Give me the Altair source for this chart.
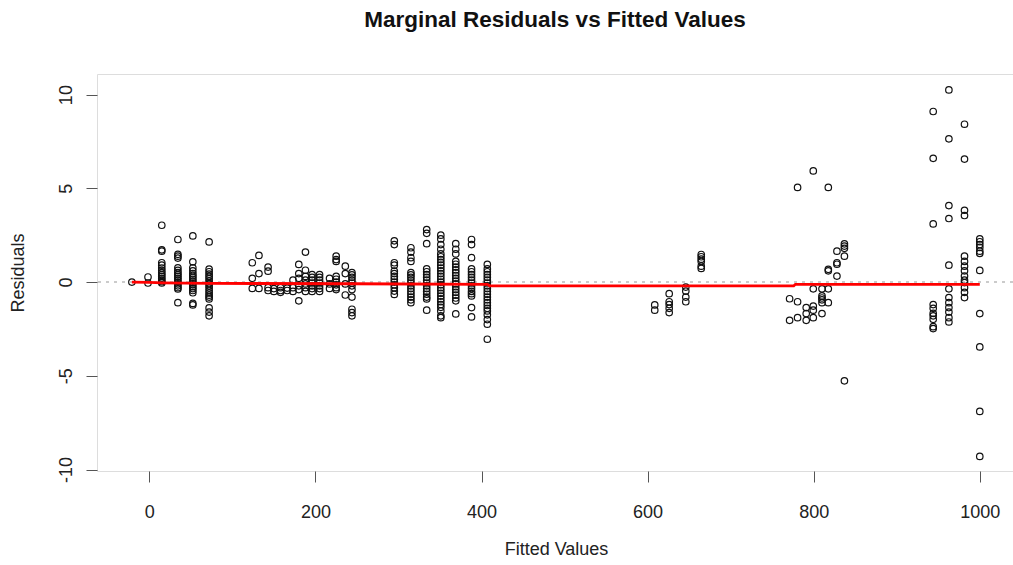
import altair as alt
import pandas as pd

# Fitted-value positions of the point columns (x) and the residuals seen at each
fitted = [-21, -1.6, 15, 34.4, 52.4, 72,
          124, 132, 143, 150, 158, 166, 173, 180, 188, 196, 205, 217, 225, 236, 244,
          295, 315, 334, 351, 369, 388, 407,
          608.6, 626, 646, 664.6,
          771, 780.6, 791, 799.5, 810, 817.6, 828, 837,
          943.9, 962.8, 981.6, 1000]

residuals = [
    [0.0],
    [0.27, -0.05],
    [3.03, 1.72, 1.65, 1.03, 0.9, 0.75, 0.62, 0.5, 0.4, 0.3, 0.2, 0.1, 0.02, -0.05],
    [2.27, 1.48, 1.38, 1.28, 0.76, 0.62, 0.5, 0.4, 0.3, 0.2, 0.1, 0.0, -0.1, -0.2, -0.3, -0.37, -1.1],
    [2.46, 1.08, 0.76, 0.6, 0.45, 0.35, 0.25, 0.15, 0.05, -0.05, -0.15, -0.25, -0.35, -0.45, -0.57, -1.14, -1.22],
    [2.14, 0.69, 0.55, 0.42, 0.3, 0.18, 0.05, -0.08, -0.2, -0.32, -0.45, -0.58, -0.7, -0.8, -0.9, -1.38, -1.6, -1.8],
    [1.03, 0.2, -0.34],
    [1.42, 0.45, -0.34],
    [0.8, 0.58, -0.3, -0.45],
    [-0.35, -0.5],
    [-0.3, -0.45, -0.55],
    [-0.32, -0.45],
    [0.1, -0.3, -0.5],
    [0.94, 0.45, 0.2, -0.2, -0.4, -1.0],
    [1.6, 0.63, 0.3, 0.1, -0.1, -0.3, -0.5],
    [0.4, 0.25, 0.1, -0.05, -0.2, -0.35, -0.5],
    [0.4, 0.25, 0.1, -0.05, -0.2, -0.35, -0.5],
    [0.2, -0.1, -0.34],
    [1.38, 1.2, 1.1, 0.3, 0.15, 0.0, -0.15, -0.3, -0.4],
    [0.85, 0.45, -0.1, -0.69],
    [0.5, 0.38, 0.25, 0.1, -0.05, -0.2, -0.4, -0.8, -1.45, -1.63, -1.8],
    [2.2, 2.0, 1.03, 0.9, 0.58, 0.45, 0.3, 0.15, 0.0, -0.15, -0.3, -0.48, -0.66],
    [1.83, 1.6, 1.3, 1.1, 0.5, 0.38, 0.25, 0.1, -0.05, -0.2, -0.35, -0.5, -0.65, -0.8, -0.95, -1.1],
    [2.8, 2.6, 2.05, 0.7, 0.55, 0.4, 0.25, 0.1, -0.05, -0.2, -0.35, -0.5, -0.65, -0.8, -0.9, -1.5],
    [2.5, 2.3, 2.0, 1.75, 1.5, 1.35, 1.2, 1.05, 0.9, 0.75, 0.6, 0.45, 0.3, 0.15, 0.0, -0.15, -0.3,
     -0.45, -0.6, -0.75, -0.9, -1.05, -1.2, -1.35, -1.54, -1.8, -1.9],
    [2.05, 1.75, 1.5, 1.1, 0.95, 0.8, 0.65, 0.5, 0.35, 0.2, 0.05, -0.1, -0.25, -0.4, -0.55, -0.7,
     -0.85, -1.0, -1.7],
    [2.27, 2.0, 1.3, 0.7, 0.55, 0.4, 0.25, 0.1, -0.05, -0.2, -0.35, -0.5, -0.62, -0.74, -1.36, -1.86],
    [0.94, 0.7, 0.55, 0.4, 0.25, 0.1, -0.05, -0.2, -0.35, -0.5, -0.65, -0.8, -0.95, -1.1, -1.25,
     -1.4, -1.54, -1.75, -2.0, -2.25, -3.05],
    [-1.22, -1.5],
    [-0.62, -1.05, -1.2, -1.4, -1.63],
    [-0.27, -0.48, -0.8, -1.05],
    [1.47, 1.35, 1.22, 1.1, 0.85, 0.73],
    [-0.89, -2.04],
    [5.05, -1.05, -1.9],
    [-1.36, -1.68, -2.04],
    [5.93, -0.36, -1.28, -1.5, -1.9],
    [-0.36, -0.74, -0.85, -0.95, -1.1, -1.68],
    [5.05, 0.68, 0.6, -0.36, -1.1],
    [1.65, 1.03, 0.95, 0.32],
    [2.04, 1.92, 1.8, 1.38, -5.27],
    [9.1, 6.6, 3.1, -1.2, -1.4, -1.67, -1.8, -1.99, -2.38, -2.48],
    [10.25, 7.64, 4.08, 3.39, 0.9, -0.36, -0.83, -1.1, -1.36, -1.6, -1.9, -2.13],
    [8.42, 6.56, 3.83, 3.55, 1.38, 1.1, 0.85, 0.6, 0.32, 0.1, -0.03, -0.3, -0.55, -0.83],
    [2.3, 2.15, 2.0, 1.85, 1.65, 1.53, 0.62, -1.68, -3.46, -6.9, -9.3],
]

# Red smooth line
smooth_x = [-21, 0, 15, 72, 245, 407, 410, 776, 778, 1000]
smooth_y = [0.0, -0.02, -0.04, -0.07, -0.09, -0.12, -0.2, -0.2, -0.12, -0.12]

x_ticks = [0, 200, 400, 600, 800, 1000]
y_ticks = [-10, -5, 0, 5, 10]

rows = []
for fx, rs in zip(fitted, residuals):
    for r in rs:
        rows.append({"fitted": fx, "resid": r})
pts = pd.DataFrame(rows)
smooth = pd.DataFrame({"fitted": smooth_x, "resid": smooth_y})
zero = pd.DataFrame({"resid": [0]})

FONT = "Liberation Sans"

xscale = alt.Scale(domain=[-63, 1040], nice=False, zero=False)
yscale = alt.Scale(domain=[-10.08, 11.1], nice=False, zero=False)

xaxis = alt.Axis(values=x_ticks, labelExpr="toString(datum.value)", title="Fitted Values",
                 grid=False, domain=False,
                 tickSize=11, tickColor="#555", labelFontSize=18, labelColor="#222",
                 labelFont=FONT, labelPadding=21, titleFont=FONT, titleFontSize=18,
                 titleFontWeight="normal", titleColor="#222", titleX=459, titleY=78,
                 titleBaseline="middle", titleAlign="center")
yaxis = alt.Axis(values=y_ticks, labelExpr="toString(datum.value)", title="Residuals",
                 grid=False, domain=False,
                 tickSize=11, tickColor="#555", labelFontSize=18, labelColor="#222",
                 labelFont=FONT, labelAngle=270, labelAlign="center", labelBaseline="bottom",
                 labelPadding=11, titleFont=FONT, titleFontSize=18, titleFontWeight="normal",
                 titleColor="#222", titleAngle=270, titleX=-79, titleY=198.5,
                 titleBaseline="middle", titleAlign="center")

zero_line = alt.Chart(zero).mark_rule(color="#bbbbbb", strokeWidth=1.5, strokeDash=[3, 5]).encode(
    y=alt.Y("resid:Q", scale=yscale, axis=yaxis)
)

points = alt.Chart(pts).mark_point(shape="circle", filled=False, color="#111111",
                                   strokeWidth=1.2, size=42, opacity=1).encode(
    x=alt.X("fitted:Q", scale=xscale, axis=xaxis),
    y=alt.Y("resid:Q", scale=yscale, axis=yaxis),
)

red = alt.Chart(smooth).mark_line(color="#ff0000", strokeWidth=2.8).encode(
    x=alt.X("fitted:Q", scale=xscale, axis=xaxis),
    y=alt.Y("resid:Q", scale=yscale, axis=yaxis),
)

chart = alt.layer(zero_line, points, red).properties(
    width=916, height=397,
    padding={"left": 97, "top": 74, "right": 0, "bottom": 94},
    autosize=alt.AutoSizeParams(type="none"),
    title=alt.TitleParams("Marginal Residuals vs Fitted Values", font=FONT, fontSize=22.5,
                          fontWeight="bold", color="#111", anchor="middle",
                          baseline="alphabetic", offset=25),
).configure_view(stroke="#555", strokeWidth=1).configure(background="white")

chart.save("out.html", embed_options={"renderer": "svg", "actions": False})
